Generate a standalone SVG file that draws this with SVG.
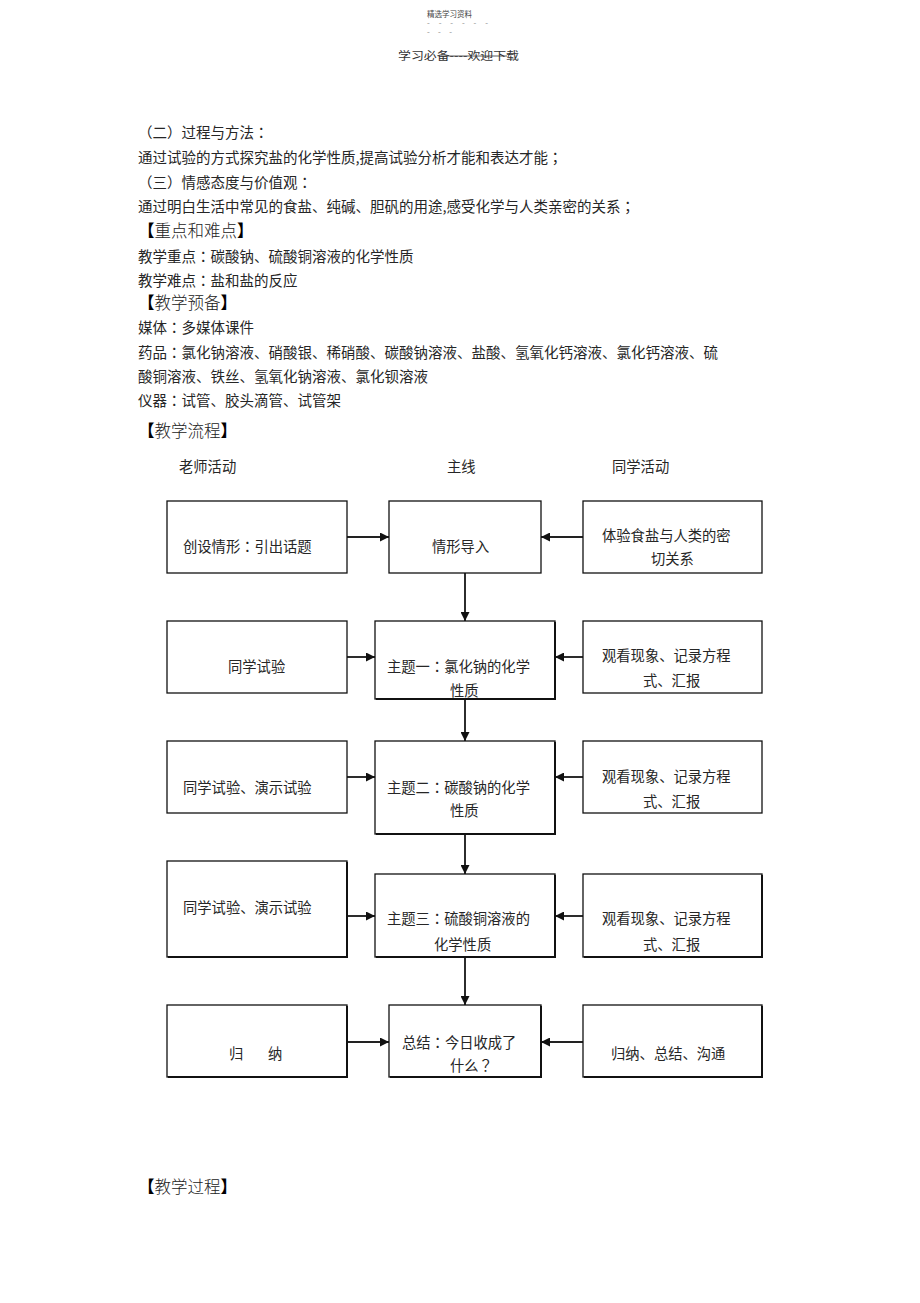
<svg xmlns="http://www.w3.org/2000/svg" width="920" height="1303" viewBox="0 0 920 1303">
<style>
text{font-family:"Noto Sans CJK SC","Liberation Sans",sans-serif;fill:#262626}
.b{font-size:14.5px}
.h{font-size:16.5px;fill:#222;font-weight:300}
.k{fill:#000;font-weight:700}
.t{font-size:14.3px}
.p{font-family:"Noto Sans CJK JP","Noto Sans CJK SC",sans-serif}
.box{fill:#fff;stroke:#111;stroke-width:1.3}
.sh{fill:none;stroke:#111;stroke-width:2}
.c{fill:none;stroke:#222;stroke-width:1.9}
</style>
<defs>
<marker id="ar" viewBox="0 0 10 10" refX="10" refY="5" markerWidth="9" markerHeight="9" markerUnits="userSpaceOnUse" orient="auto">
<path d="M0,0 L10,5 L0,10 z" fill="#111"/>
</marker>
</defs>
<rect width="920" height="1303" fill="#fff"/>
<g id="header">
<text x="427" y="17" style="font-size:7.5px;fill:#444">精选学习资料</text>
<text x="427" y="26" style="font-size:8px;fill:#888" textLength="61" lengthAdjust="spacing">- - - - - -</text>
<text x="427" y="35" style="font-size:8px;fill:#888" textLength="25" lengthAdjust="spacing">- - -</text>
<text x="398" y="60" style="font-size:11px;fill:#333" textLength="121" lengthAdjust="spacingAndGlyphs">学习必备----欢迎下载</text>
<line x1="441" y1="56" x2="507" y2="56" stroke="#333" stroke-width="0.8"/>
</g>
<g id="body">
<text class="b" x="138" y="137.5">（二）过程与方法<tspan class="p">：</tspan></text>
<text class="b" x="138" y="162.5">通过试验的方式探究盐的化学性质,提高试验分析才能和表达才能<tspan class="p">；</tspan></text>
<text class="b" x="138" y="187.5">（三）情感态度与价值观<tspan class="p">：</tspan></text>
<text class="b" x="138" y="211.5">通过明白生活中常见的食盐、纯碱、胆矾的用途,感受化学与人类亲密的关系<tspan class="p">；</tspan></text>
<text class="h" x="138" y="237"><tspan class="k">【</tspan>重点和难点<tspan class="k">】</tspan></text>
<text class="b" x="138" y="261.5">教学重点<tspan class="p">：</tspan>碳酸钠、硫酸铜溶液的化学性质</text>
<text class="b" x="138" y="285.5">教学难点<tspan class="p">：</tspan>盐和盐的反应</text>
<text class="h" x="138" y="309"><tspan class="k">【</tspan>教学预备<tspan class="k">】</tspan></text>
<text class="b" x="138" y="332.5">媒体<tspan class="p">：</tspan>多媒体课件</text>
<text class="b" x="138" y="357.5">药品<tspan class="p">：</tspan>氯化钠溶液、硝酸银、稀硝酸、碳酸钠溶液、盐酸、氢氧化钙溶液、氯化钙溶液、硫</text>
<text class="b" x="138" y="381.5">酸铜溶液、铁丝、氢氧化钠溶液、氯化钡溶液</text>
<text class="b" x="138" y="405.5">仪器<tspan class="p">：</tspan>试管、胶头滴管、试管架</text>
<text class="h" x="138" y="437"><tspan class="k">【</tspan>教学流程<tspan class="k">】</tspan></text>
<text class="t" x="179" y="471.5">老师活动</text>
<text class="t" x="447" y="471.5">主线</text>
<text class="t" x="612" y="471.5">同学活动</text>
<text class="h" x="138" y="1193"><tspan class="k">【</tspan>教学过程<tspan class="k">】</tspan></text>
</g>
<g id="connectors">
<line class="c" x1="347" y1="537" x2="389" y2="537" marker-end="url(#ar)"/>
<line class="c" x1="583" y1="537" x2="541" y2="537" marker-end="url(#ar)"/>
<line class="c" x1="465" y1="573" x2="465" y2="621" marker-end="url(#ar)"/>
<line class="c" x1="347" y1="657" x2="375" y2="657" marker-end="url(#ar)"/>
<line class="c" x1="583" y1="657" x2="555" y2="657" marker-end="url(#ar)"/>
<line class="c" x1="465" y1="699" x2="465" y2="741" marker-end="url(#ar)"/>
<line class="c" x1="347" y1="777" x2="375" y2="777" marker-end="url(#ar)"/>
<line class="c" x1="583" y1="777" x2="555" y2="777" marker-end="url(#ar)"/>
<line class="c" x1="465" y1="834" x2="465" y2="874" marker-end="url(#ar)"/>
<line class="c" x1="347" y1="916" x2="375" y2="916" marker-end="url(#ar)"/>
<line class="c" x1="583" y1="916" x2="555" y2="916" marker-end="url(#ar)"/>
<line class="c" x1="465" y1="957" x2="465" y2="1005" marker-end="url(#ar)"/>
<line class="c" x1="347" y1="1042" x2="389" y2="1042" marker-end="url(#ar)"/>
<line class="c" x1="583" y1="1042" x2="541" y2="1042" marker-end="url(#ar)"/>
</g>
<g id="n-l1"><rect class="box" x="167" y="501" width="180" height="72"/><text class="t" x="183" y="551.5">创设情形<tspan class="p">：</tspan>引出话题</text></g>
<g id="n-m1"><rect class="box" x="389" y="501" width="152" height="72"/><text class="t" x="432" y="551.5">情形导入</text></g>
<g id="n-r1"><rect class="box" x="583" y="501" width="179" height="72"/><text class="t" x="602" y="540.5">体验食盐与人类的密</text><text class="t" x="651" y="563.5">切关系</text></g>
<g id="n-l2"><rect class="box" x="167" y="621" width="180" height="72"/><text class="t" x="228" y="671.5">同学试验</text></g>
<g id="n-m2"><rect class="box" x="375" y="621" width="180" height="78"/><path class="sh" d="M555,622 V699 H376"/><text class="t" x="387" y="671.5">主题一<tspan class="p">：</tspan>氯化钠的化学</text><text class="t" x="450" y="695.5">性质</text></g>
<g id="n-r2"><rect class="box" x="583" y="621" width="179" height="72"/><text class="t" x="602" y="660.5">观看现象、记录方程</text><text class="t" x="643" y="685.5">式、汇报</text></g>
<g id="n-l3"><rect class="box" x="167" y="741" width="180" height="72"/><text class="t" x="183" y="792.5">同学试验、演示试验</text></g>
<g id="n-m3"><rect class="box" x="375" y="741" width="180" height="93"/><path class="sh" d="M555,742 V834 H376"/><text class="t" x="387" y="792.5">主题二<tspan class="p">：</tspan>碳酸钠的化学</text><text class="t" x="450" y="815.5">性质</text></g>
<g id="n-r3"><rect class="box" x="583" y="741" width="179" height="72"/><text class="t" x="602" y="781.5">观看现象、记录方程</text><text class="t" x="643" y="806.5">式、汇报</text></g>
<g id="n-l4"><rect class="box" x="167" y="861" width="180" height="96"/><path class="sh" d="M347,862 V957 H168"/><text class="t" x="183" y="912.5">同学试验、演示试验</text></g>
<g id="n-m4"><rect class="box" x="375" y="874" width="180" height="83"/><path class="sh" d="M555,875 V957 H376"/><text class="t" x="387" y="923.5">主题三<tspan class="p">：</tspan>硫酸铜溶液的</text><text class="t" x="434" y="949.5">化学性质</text></g>
<g id="n-r4"><rect class="box" x="583" y="874" width="179" height="83"/><path class="sh" d="M762,875 V957 H584"/><text class="t" x="602" y="923.5">观看现象、记录方程</text><text class="t" x="643" y="949.5">式、汇报</text></g>
<g id="n-l5"><rect class="box" x="167" y="1005" width="180" height="72"/><path class="sh" d="M347,1006 V1077 H168"/><text class="t" x="229" y="1058.5">归</text><text class="t" x="268" y="1058.5">纳</text></g>
<g id="n-m5"><rect class="box" x="389" y="1005" width="152" height="72"/><path class="sh" d="M541,1006 V1077 H390"/><text class="t" x="402" y="1047.5">总结<tspan class="p">：</tspan>今日收成了</text><text class="t" x="450" y="1070.5">什么<tspan class="p">？</tspan></text></g>
<g id="n-r5"><rect class="box" x="583" y="1005" width="179" height="72"/><path class="sh" d="M762,1006 V1077 H584"/><text class="t" x="611" y="1058.5">归纳、总结、沟通</text></g>
</svg>
